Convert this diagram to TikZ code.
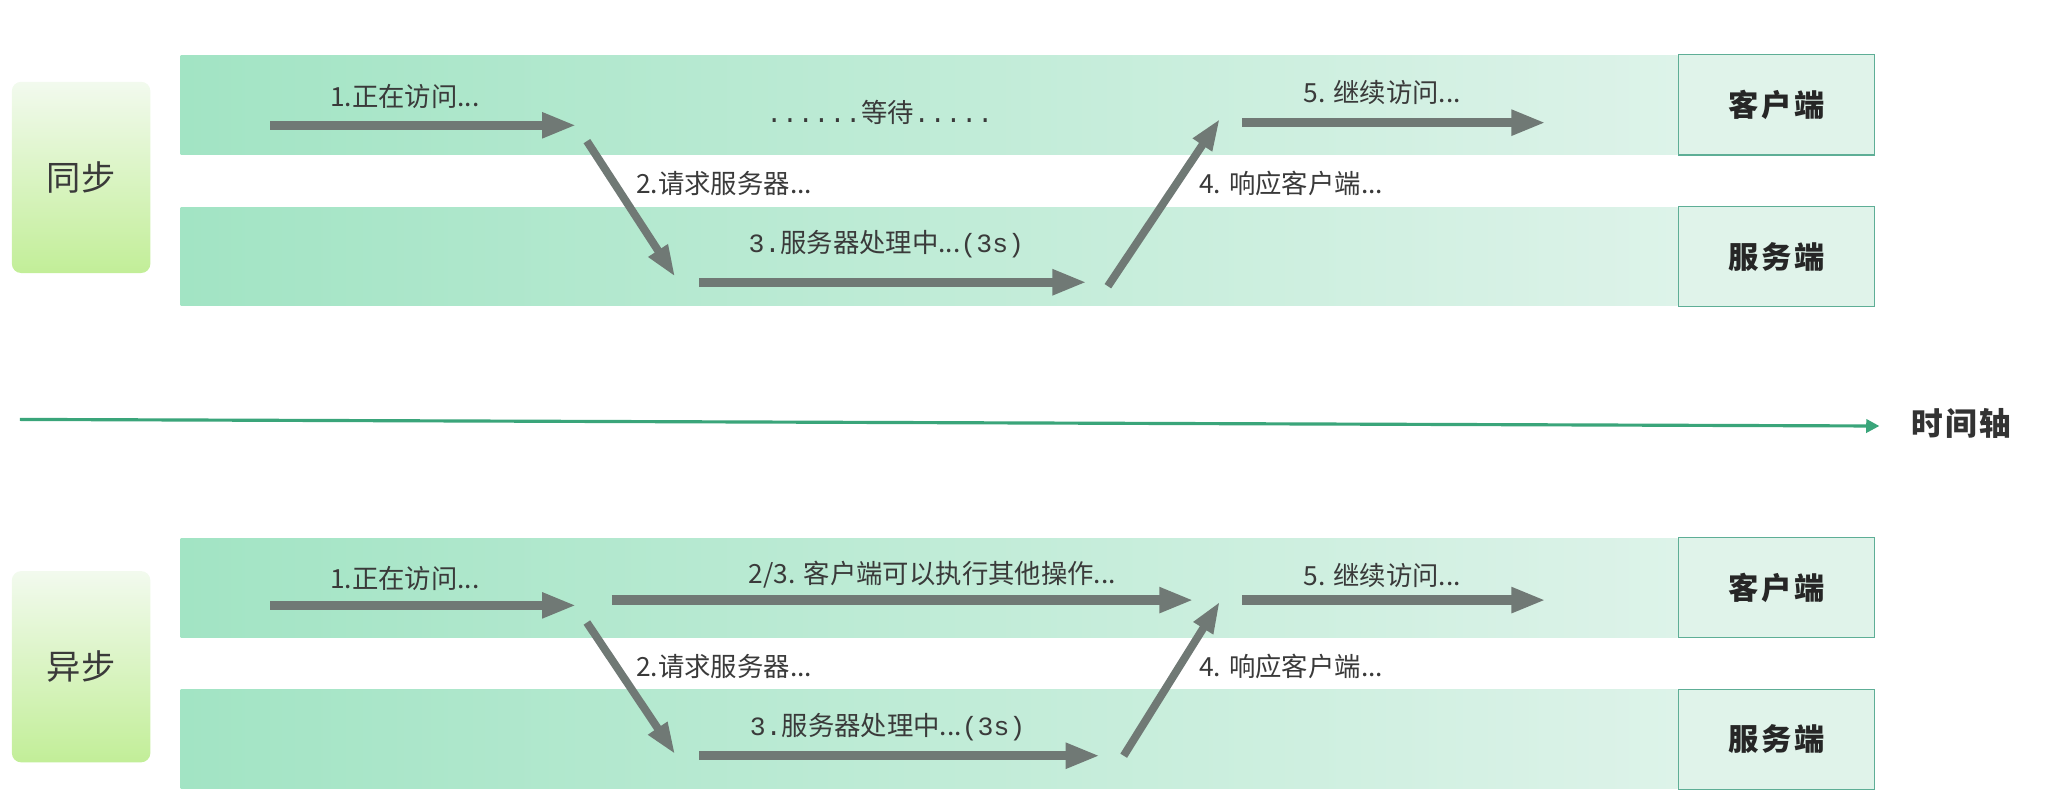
\documentclass[tikz,border=0pt]{standalone}
\usepackage{fontspec}
\setmainfont{Noto Sans CJK SC}
\newfontfamily\monof{Liberation Mono}
\usetikzlibrary{arrows.meta}
\definecolor{bandL}{HTML}{A2E4C4}
\definecolor{bandR}{HTML}{DDF3E9}
\definecolor{boxfill}{HTML}{E0F3EA}
\definecolor{boxline}{HTML}{5EAE96}
\definecolor{arrowgray}{HTML}{707975}
\definecolor{axisgreen}{HTML}{3AA57A}
\definecolor{lblTop}{HTML}{F2FAEE}
\definecolor{lblBot}{HTML}{C2EE98}
\definecolor{txt}{HTML}{3A3A3A}
\begin{document}
\begin{tikzpicture}[x=1pt,y=-1pt,
  band/.style={rectangle, inner sep=0pt, minimum width=1135pt, minimum height=75pt, left color=bandL, right color=bandR},
  rolebox/.style={rectangle, inner sep=0pt, minimum width=148pt, minimum height=76pt, fill=boxfill, draw=boxline, line width=0.8pt, font=\fontsize{23}{26}\selectfont\bfseries\addfontfeature{LetterSpace=10}, text=black!85},
  modebox/.style={rectangle, inner sep=0pt, minimum width=105pt, minimum height=145pt, rounded corners=7pt, top color=lblTop, bottom color=lblBot, font=\fontsize{26}{30}\selectfont, text=txt},
  lbl/.style={inner sep=0pt, font=\fontsize{20}{24}\selectfont, text=txt},
  fat/.style={draw=arrowgray, line width=7pt, -{Triangle[length=26pt,width=18pt]}},
  fatd/.style={draw=arrowgray, line width=6pt, -{Triangle[length=24pt,width=16pt]}},
  axis/.style={draw=axisgreen, line width=2.4pt, -{Triangle[length=10pt,width=10pt]}}
]
\useasboundingbox (0,0) rectangle (1568,614);

% ---------- synchronous ----------
\node[band] (sCband) at (704.5,79.5) {};
\node[band] (sSband) at (704.5,194.5) {};
\node[rolebox] (sC) at (1347,79.5) {客户端};
\node[rolebox] (sS) at (1347,194.5) {服务端};
\node[modebox] (sync) at (61.5,134.5) {同步};

\coordinate (s1a) at (205,95);  \coordinate (s1b) at (437,95);
\coordinate (s2a) at (445,107); \coordinate (s2b) at (512,210);
\coordinate (s3a) at (530,214); \coordinate (s3b) at (824,214);
\coordinate (s4a) at (840,217); \coordinate (s4b) at (925,90);
\coordinate (s5a) at (942,93);  \coordinate (s5b) at (1172,93);
\draw[fat] (s1a) -- (s1b);
\draw[fatd] (s2a) -- (s2b);
\draw[fat] (s3a) -- (s3b);
\draw[fatd] (s4a) -- (s4b);
\draw[fat] (s5a) -- (s5b);

\node[lbl] (sl1) at (307,73) {1.正在访问...};
\node[lbl] (slw) at (667,85) {{\monof ......}等待{\monof .....}};
\node[lbl] (sl2) at (549,139) {2.请求服务器...};
\node[lbl] (sl3) at (672,185) {{\monof 3.}服务器处理中...{\monof (3s)}};
\node[lbl] (sl4) at (979,139) {4. 响应客户端...};
\node[lbl] (sl5) at (1048,70) {5. 继续访问...};

% ---------- time axis ----------
\coordinate (t0) at (15,318);
\node[inner sep=0pt, font=\fontsize{24}{28}\selectfont\bfseries\addfontfeature{LetterSpace=8}, text=black!80] (tlabel) at (1487,321) {时间轴};
\coordinate (t1) at (1425,323);
\draw[axis] (t0) -- (t1);

% ---------- asynchronous ----------
\node[band] (aCband) at (704.5,445.5) {};
\node[band] (aSband) at (704.5,560.5) {};
\node[rolebox] (aC) at (1347,445.5) {客户端};
\node[rolebox] (aS) at (1347,560.5) {服务端};
\node[modebox] (async) at (61.5,505.5) {异步};

\coordinate (a1a) at (205,459);  \coordinate (a1b) at (437,459);
\coordinate (a23a) at (464,455); \coordinate (a23b) at (905,455);
\coordinate (a2a) at (445,472);  \coordinate (a2b) at (512,572);
\coordinate (a3a) at (530,573);  \coordinate (a3b) at (834,573);
\coordinate (a4a) at (852,573);  \coordinate (a4b) at (925,456);
\coordinate (a5a) at (942,455);  \coordinate (a5b) at (1172,455);
\draw[fat] (a1a) -- (a1b);
\draw[fat] (a23a) -- (a23b);
\draw[fatd] (a2a) -- (a2b);
\draw[fat] (a3a) -- (a3b);
\draw[fatd] (a4a) -- (a4b);
\draw[fat] (a5a) -- (a5b);

\node[lbl] (al1) at (307,439) {1.正在访问...};
\node[lbl] (al23) at (707,436) {2/3. 客户端可以执行其他操作...};
\node[lbl] (al2) at (549,505) {2.请求服务器...};
\node[lbl] (al3) at (673,551) {{\monof 3.}服务器处理中...{\monof (3s)}};
\node[lbl] (al4) at (979,505) {4. 响应客户端...};
\node[lbl] (al5) at (1048,436) {5. 继续访问...};
\end{tikzpicture}
\end{document}
